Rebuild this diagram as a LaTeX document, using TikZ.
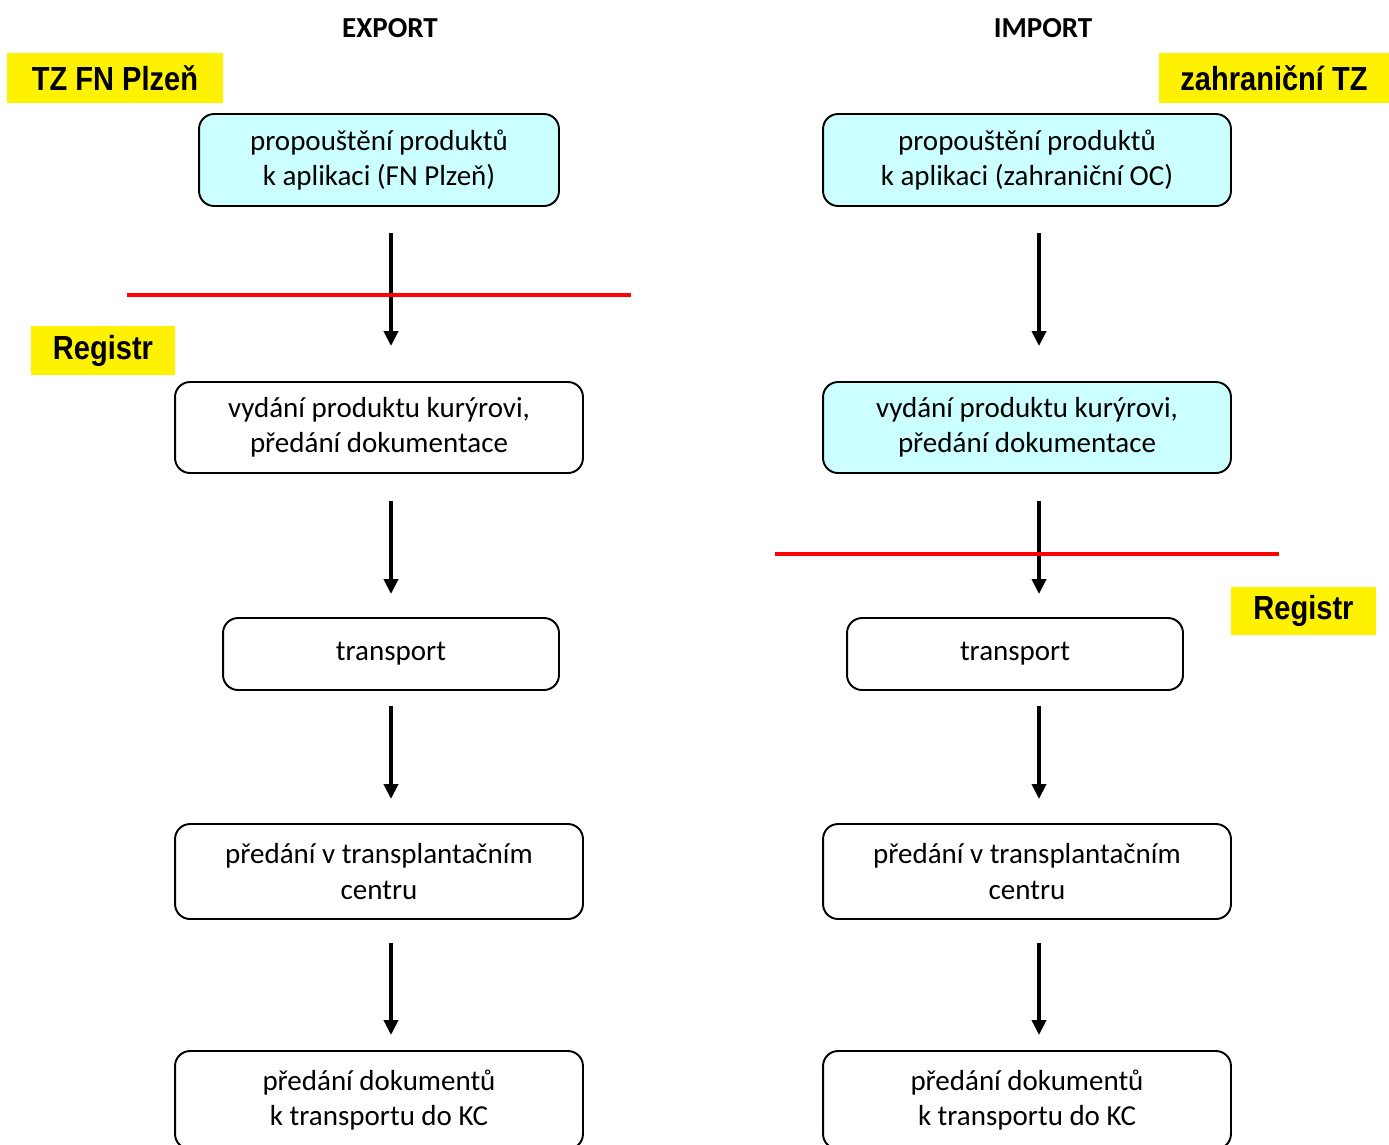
\documentclass[tikz,border=0pt]{standalone}
\usepackage{fontspec}
\setmainfont{Carlito}
\newfontfamily\tagfont[FakeStretch=0.87]{Liberation Sans}
\usetikzlibrary{arrows.meta,positioning}
\definecolor{lightcyan}{HTML}{CCFFFF}

\begin{document}
\begin{tikzpicture}[x=0.02cm, y=-0.02cm,
  >={Triangle[length=3mm, width=2.8mm]},
  box/.style={draw, line width=1.1pt, rounded corners=3mm, align=center, inner sep=0pt,
    font=\fontsize{16.5}{20}\selectfont},
  rel/.style={box, fill=lightcyan},
  tag/.style={fill=yellow, inner sep=0pt, minimum height=1cm, font=\tagfont\bfseries\fontsize{19}{22}\selectfont},
  head/.style={font=\bfseries\fontsize{16.5}{20}\selectfont},
  flow/.style={->, line width=2.3pt},
  cut/.style={red, line width=2.8pt}]
  \clip (0,0) rectangle (1389,1144);
  % column headings and owners
  \node[head] (exp) at (390,28) {EXPORT};
  \node[head] (imp) at (1043,28) {IMPORT};
  \node[tag, minimum width=4.32cm] (tzfn) at (115,78) {TZ FN Plzeň};
  \node[tag, minimum width=4.6cm] (tzzahr) at (1274,78) {zahraniční TZ};
  \node[tag, minimum width=2.88cm, minimum height=0.98cm] (regL) at (103,350.5) {Registr};
  \node[tag, minimum width=2.9cm, minimum height=0.96cm] (regR) at (1303.5,611) {Registr};
  % export column
  \node[rel, minimum width=7.2cm, minimum height=1.84cm] (B1) at (379,160) {propouštění produktů\\ k aplikaci (FN Plzeň)};
  \node[box, minimum width=8.16cm, minimum height=1.82cm] (B2) at (379,427.5) {vydání produktu kurýrovi,\\ předání dokumentace};
  \node[box, minimum width=6.72cm, minimum height=1.44cm] (B3) at (391,654) {transport};
  \node[box, minimum width=8.16cm, minimum height=1.9cm] (B4) at (379,871.5) {předání v transplantačním\\ centru};
  \node[box, minimum width=8.16cm, minimum height=1.96cm] (B5) at (379,1100) {předání dokumentů\\ k transportu do KC};
  % import column
  \node[rel, minimum width=8.16cm, minimum height=1.84cm] (R1) at (1027,160) {propouštění produktů\\ k aplikaci (zahraniční OC)};
  \node[rel, minimum width=8.16cm, minimum height=1.82cm] (R2) at (1027,427.5) {vydání produktu kurýrovi,\\ předání dokumentace};
  \node[box, minimum width=6.72cm, minimum height=1.44cm] (R3) at (1015,654) {transport};
  \node[box, minimum width=8.16cm, minimum height=1.9cm] (R4) at (1027,871.5) {předání v transplantačním\\ centru};
  \node[box, minimum width=8.16cm, minimum height=1.96cm] (R5) at (1027,1100) {předání dokumentů\\ k transportu do KC};
  % arrow axes
  \coordinate (axB) at (391,0);
  \coordinate (axR) at (1039,0);
  \foreach \c in {B,R}
    \foreach \a/\b/\s/\e in {1/2/5.2/7, 2/3/5.4/4.6, 3/4/3/4.8, 4/5/4.6/3}
      \draw[flow, shorten <=\s mm, shorten >=\e mm] (\c\a.south -| ax\c) -- (\c\b.north -| ax\c);
  % responsibility boundaries
  \draw[cut] (127,295) -- (631,295);
  \draw[cut] (775,554) -- (1279,554);
\end{tikzpicture}
\end{document}
